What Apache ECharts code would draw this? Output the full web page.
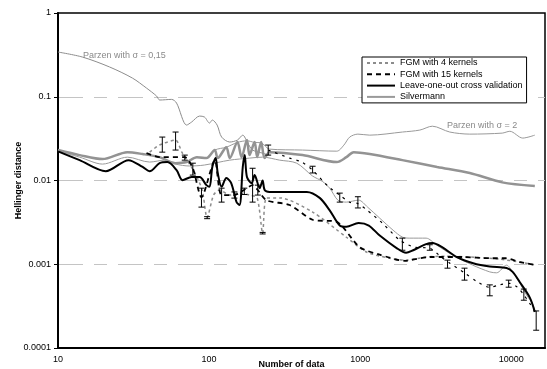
<!DOCTYPE html>
<html>
<head>
<meta charset="utf-8">
<script src="https://cdn.jsdelivr.net/npm/echarts@6.0.0/dist/echarts.min.js"></script>
<style>
html,body{margin:0;padding:0;background:#fff;}
#chart{width:547px;height:369px;}
</style>
</head>
<body>
<div id="chart"></div>
<script>
// ---- data ----
const xTickLabels = ['10', '100', '1000', '10000'];
const yTickLabels = ['1', '0.1', '0.01', '0.001', '0.0001'];

const parzen015N = [10, 14.5, 21.9, 31.1, 38.5, 44.9, 47.1, 56.5, 60.9, 71, 76.6, 86.5, 93.3, 100.6, 105, 113, 121, 137, 154, 167, 180, 194, 226, 251];
const parzen015V = [0.342, 0.298, 0.227, 0.167, 0.127, 0.102, 0.0914, 0.093, 0.0841, 0.0459, 0.0499, 0.0588, 0.0572, 0.0485, 0.0527, 0.0459, 0.033, 0.0288, 0.0304, 0.0348, 0.028, 0.0231, 0.0212, 0.0201];

const parzen2N = [10, 13.9, 19.7, 28.8, 36.3, 47, 60, 71, 83, 96, 109, 130, 154, 178, 200, 221, 251, 415, 700, 780, 852, 965, 1156, 1900, 2480, 3000, 3914, 5310, 8700, 9770, 11900, 14300];
const parzen2V = [0.0231, 0.0201, 0.018, 0.0218, 0.0207, 0.019, 0.0163, 0.0168, 0.019, 0.0188, 0.0231, 0.025, 0.0285, 0.0298, 0.0285, 0.0282, 0.0237, 0.0231, 0.0224, 0.0265, 0.033, 0.0358, 0.0348, 0.0379, 0.04, 0.0445, 0.0379, 0.0358, 0.0368, 0.0387, 0.0321, 0.0348];

const thickGrayN = [10, 13.9, 19.7, 28.8, 36.3, 47, 60, 71, 83, 96, 109, 114, 130, 137, 154, 164, 178, 185, 200, 208, 221, 233, 251, 415, 700, 810, 905, 1156, 1900, 3230, 5310, 8700, 14300];
const thickGrayV = [0.0231, 0.0201, 0.018, 0.0218, 0.0207, 0.019, 0.0161, 0.0166, 0.019, 0.0185, 0.0231, 0.0185, 0.025, 0.0185, 0.0288, 0.019, 0.0304, 0.0201, 0.0288, 0.019, 0.0288, 0.0185, 0.0218, 0.0201, 0.0166, 0.019, 0.0218, 0.0207, 0.0175, 0.0145, 0.0123, 0.0095, 0.0086];

const silvN = [10, 13.9, 19.7, 28.8, 40.4, 50.7, 60, 74, 93, 137, 185, 226, 293, 380, 484, 560, 628, 713, 810, 975, 1120, 1346, 1650, 1900, 2130, 2730, 3180, 4100, 5550, 7200, 7990, 9300, 10200, 11380, 12600, 13900, 14300];
const silvV = [0.0223, 0.019, 0.0157, 0.019, 0.0166, 0.0175, 0.0157, 0.0149, 0.0153, 0.0175, 0.0185, 0.019, 0.0175, 0.0161, 0.0113, 0.0098, 0.0081, 0.0058, 0.00552, 0.00583, 0.0048, 0.00355, 0.00255, 0.00211, 0.00205, 0.00205, 0.00171, 0.00128, 0.000976, 0.00081, 0.00079, 0.000976, 0.00081, 0.000594, 0.00043, 0.00033, 0.00027];

const looN = [10, 13.9, 20.7, 29.3, 36.3, 40.4, 47, 53, 60.9, 66.7, 76.6, 86.5, 96, 100.6, 105, 110.5, 114, 121, 130, 140, 152, 159, 167, 172, 178, 191, 200, 216, 226, 233, 251, 293, 443, 539, 628, 732, 810, 975, 1140, 1346, 1750, 2010, 2240, 2730, 3000, 3480, 4350, 5590, 7200, 9300, 10200, 11380, 13250, 14300];
const looV = [0.0223, 0.0175, 0.0129, 0.0175, 0.0145, 0.0129, 0.0161, 0.0166, 0.0133, 0.0101, 0.011, 0.011, 0.0088, 0.0084, 0.0145, 0.0185, 0.0123, 0.0084, 0.0107, 0.0093, 0.0055, 0.0051, 0.0145, 0.0201, 0.011, 0.0093, 0.0116, 0.0081, 0.01, 0.0077, 0.0073, 0.0073, 0.0073, 0.0062, 0.0044, 0.0029, 0.0028, 0.0031, 0.0029, 0.0022, 0.00155, 0.00137, 0.00147, 0.00174, 0.00179, 0.0016, 0.00122, 0.00103, 0.00094, 0.0009, 0.00081, 0.00061, 0.0004, 0.00027];

const fgm4N = [40.4, 47, 60, 66, 80, 90, 97, 107, 117, 137, 159, 185, 208, 226, 240, 293, 484, 810, 1100, 1568, 2010, 2730, 3650, 5310, 8388, 11380, 14700];
const fgm4V = [0.0218, 0.0265, 0.0304, 0.0218, 0.0126, 0.0077, 0.0036, 0.0067, 0.0077, 0.0067, 0.0071, 0.0067, 0.0062, 0.00235, 0.0062, 0.0062, 0.0042, 0.0021, 0.0014, 0.00118, 0.00112, 0.00122, 0.00125, 0.00122, 0.00115, 0.00106, 0.000976];

const fgm15N = [38.5, 47, 69, 78, 89, 109, 121, 147, 172, 194, 210, 240, 341, 484, 700, 990, 1346, 1970, 2886, 4800, 7200, 9200, 11380, 14700];
const fgm15V = [0.0212, 0.019, 0.019, 0.014, 0.0063, 0.0175, 0.0067, 0.0067, 0.0078, 0.0088, 0.0077, 0.0058, 0.0051, 0.0034, 0.0032, 0.0016, 0.0013, 0.0011, 0.00122, 0.00122, 0.00118, 0.00118, 0.00106, 0.000976];

const meanN = [246, 341, 410, 484, 610, 732, 852, 965, 1115, 1400, 1826, 2270, 2886, 3440, 3914, 4900, 5920, 7200, 8388, 9770, 11000, 12100, 13250, 14600];
const meanV = [0.0231, 0.0185, 0.0166, 0.0133, 0.0086, 0.0067, 0.0055, 0.0053, 0.0044, 0.0031, 0.00194, 0.0016, 0.00155, 0.00122, 0.00103, 0.00079, 0.00062, 0.00053, 0.00057, 0.00059, 0.00053, 0.00043, 0.00034, 0.00026];

const errN = [49, 60, 69, 78, 89, 97, 121, 147, 171, 194, 210, 226, 246, 484, 732, 965, 1900, 2886, 3780, 4900, 7200, 9600, 12100, 14600];
const errHigh = [0.033, 0.0379, 0.0201, 0.0161, 0.0081, 0.0037, 0.0081, 0.0073, 0.0081, 0.014, 0.0088, 0.0024, 0.0265, 0.0148, 0.00707, 0.0064, 0.00205, 0.00171, 0.00112, 0.000898, 0.000567, 0.000646, 0.000505, 0.000277];
const errLow = [0.0218, 0.0231, 0.0175, 0.0116, 0.00481, 0.0035, 0.00552, 0.00616, 0.0068, 0.00552, 0.0067, 0.0023, 0.0201, 0.0123, 0.00552, 0.0047, 0.00147, 0.00147, 0.000898, 0.000646, 0.00042, 0.000532, 0.000372, 0.000163];

// ---- build ----
const zip = (a, b) => a.map((v, i) => [v, b[i]]);
const FONT = 'Liberation Sans, Arial, sans-serif';

const chart = echarts.init(document.getElementById('chart'), null, {renderer: 'canvas'});

function line(name, n, v, color, width, type, z, smooth) {
  return {
    name: name, type: 'line', data: zip(n, v), symbol: 'none', smooth: smooth,
    lineStyle: {color: color, width: width, type: type},
    itemStyle: {color: color}, z: z, silent: true
  };
}

const option = {
  animation: false,
  grid: {left: 58, right: 2, top: 13, bottom: 21, containLabel: false, outerBoundsMode: 'none',
         show: true, borderColor: '#000', borderWidth: 1.5, backgroundColor: 'transparent'},
  xAxis: {
    type: 'log', logBase: 10, min: 10, max: 16700,
    name: 'Number of data', nameLocation: 'middle', nameGap: 12, nameMoveOverlap: false,
    nameTextStyle: {fontFamily: FONT, fontSize: 9, fontWeight: 'bold', color: '#000', padding: [0, 20, 0, 0]},
    axisLine: {show: true, lineStyle: {color: '#000', width: 2}},
    axisTick: {show: false},
    axisLabel: {
      fontFamily: FONT, fontSize: 9, color: '#000', margin: 7,
      showMaxLabel: false,
      formatter: function (v) {
        const e = Math.log10(v), r = Math.round(e);
        if (Math.abs(e - r) > 1e-6) return '';
        return xTickLabels[r - 1] || '';
      }
    },
    splitLine: {show: false}
  },
  yAxis: {
    type: 'log', logBase: 10, min: 0.0001, max: 1,
    name: 'Hellinger distance', nameLocation: 'middle', nameGap: 35, nameRotate: 90, nameMoveOverlap: false,
    nameTextStyle: {fontFamily: FONT, fontSize: 9, fontWeight: 'bold', color: '#000'},
    axisLine: {show: true, lineStyle: {color: '#000', width: 2}},
    axisTick: {show: true, length: 4, lineStyle: {color: '#000', width: 1}},
    axisLabel: {
      fontFamily: FONT, fontSize: 9, color: '#000', margin: 7,
      formatter: function (v) {
        const r = Math.round(-Math.log10(v));
        return yTickLabels[r] || '';
      }
    },
    splitLine: {show: true, showMinLine: false, showMaxLine: false,
                lineStyle: {color: '#c4c4c4', width: 1, type: [25, 11, 13, 11]}}
  },
  legend: {
    orient: 'vertical', left: 362, top: 57,
    data: ['FGM with 4 kernels', 'FGM with 15 kernels', 'Leave-one-out cross validation', 'Silvermann'],
    backgroundColor: '#fff', borderColor: '#000', borderWidth: 1, borderRadius: 0,
    padding: [1, 4, 1, 4], itemGap: 1.3, itemWidth: 28, itemHeight: 10,
    itemStyle: {opacity: 0, borderWidth: 0},
    textStyle: {fontFamily: FONT, fontSize: 9, color: '#000', lineHeight: 10},
    selectedMode: false
  },
  graphic: [
    {type: 'text', left: 83, top: 51, silent: true, z: 50,
     style: {text: 'Parzen with σ = 0,15', fill: '#8a8a8a', font: '9px ' + FONT}},
    {type: 'text', left: 447, top: 121, silent: true, z: 50,
     style: {text: 'Parzen with σ = 2', fill: '#8a8a8a', font: '9px ' + FONT}}
  ],
  series: [
    line('Parzen with σ = 0,15', parzen015N, parzen015V, '#8c8c8c', 1, 'solid', 2, 0.3),
    line('Parzen with σ = 2', parzen2N, parzen2V, '#999999', 1, 'solid', 2, 0.3),
    line('Parzen thick', thickGrayN, thickGrayV, '#939393', 2.5, 'solid', 3, 0.3),
    line('Silvermann', silvN, silvV, '#9a9a9a', 1, 'solid', 4, 0.3),
    line('FGM with 4 kernels', fgm4N, fgm4V, '#8c8c8c', 1.5, [3, 3], 5, 0.25),
    line('FGM with 15 kernels', fgm15N, fgm15V, '#000000', 1.8, [5, 4], 6, 0.25),
    line('FGM means', meanN, meanV, '#000000', 1.2, [2.5, 5], 6, 0.25),
    line('Leave-one-out cross validation', looN, looV, '#000000', 2, 'solid', 7, 0.3),
    {
      name: 'error bars', type: 'custom', z: 8, silent: true,
      data: errN.map((n, i) => [n, errLow[i], errHigh[i]]),
      encode: {x: 0, y: [1, 2]},
      renderItem: function (params, api) {
        const n = api.value(0);
        const top = api.coord([n, api.value(2)]);
        const bot = api.coord([n, api.value(1)]);
        const w = 3;
        const st = {stroke: '#000', lineWidth: 1};
        return {
          type: 'group',
          children: [
            {type: 'line', shape: {x1: top[0], y1: top[1], x2: bot[0], y2: bot[1]}, style: st},
            {type: 'line', shape: {x1: top[0] - w, y1: top[1], x2: top[0] + w, y2: top[1]}, style: st},
            {type: 'line', shape: {x1: bot[0] - w, y1: bot[1], x2: bot[0] + w, y2: bot[1]}, style: st}
          ]
        };
      }
    }
  ]
};
chart.setOption(option);
</script>
</body>
</html>
